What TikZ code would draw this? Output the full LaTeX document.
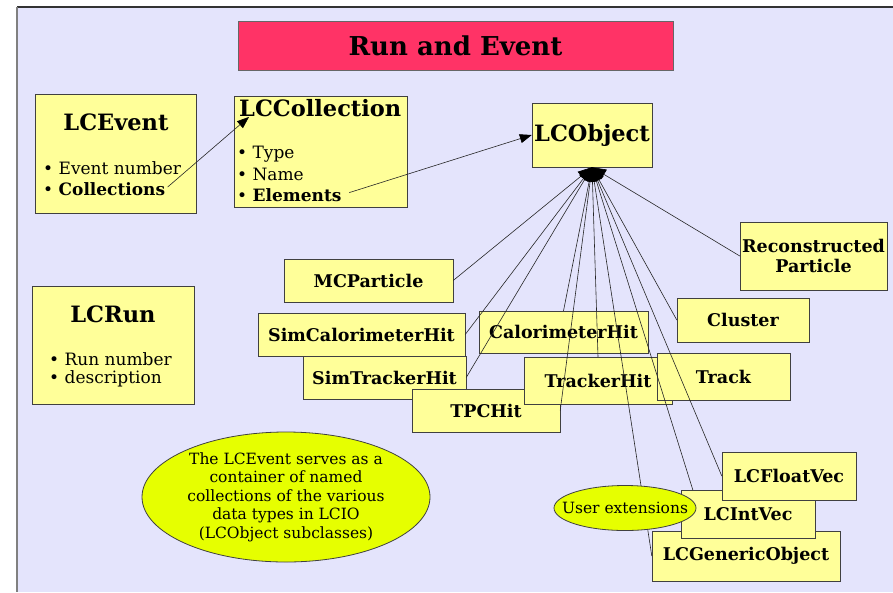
\documentclass[tikz,border=0pt]{standalone}
\usepackage{fontspec}
\setmainfont{DejaVu Serif}
\usetikzlibrary{positioning}
\usetikzlibrary{arrows.meta}
\usetikzlibrary{shapes.geometric}
\definecolor{pagebg}{RGB}{228,228,252}
\definecolor{boxfill}{RGB}{255,255,153}
\definecolor{notefill}{RGB}{230,255,0}
\definecolor{titlefill}{RGB}{255,51,102}
\newcommand{\fsize}[2]{\fontsize{#1}{#2}\selectfont}

\begin{document}
\begin{tikzpicture}[x=1pt, y=-1pt,
    classbox/.style={draw=black!75, fill=boxfill, inner sep=0pt, font=\bfseries\fsize{17.5}{20}},
    head/.style={inner sep=0pt, font=\bfseries\fsize{22.5}{24}},
    item/.style={inner sep=0pt, anchor=west, font=\fsize{17}{20}},
    note/.style={ellipse, draw=black!75, line width=0.8pt, fill=notefill, inner sep=0pt, align=center},
    link/.style={draw=black!85, line width=0.6pt},
    inherit/.style={link, -{Triangle[length=14pt, width=11pt, color=black]}},
    uses/.style={link, -{Triangle[length=12pt, width=9pt, color=black]}}]
    \useasboundingbox (0,0) rectangle (893,592);
    \fill[white] (0,0) rectangle (893,592);
    \fill[pagebg] (17,7) rectangle (893,592);
    \draw[black!80, line width=1.5pt] (17,7) -- (893,7);
    \draw[black!50, line width=2pt] (17,7) -- (17,592);

    \node[draw=black!60, fill=titlefill, minimum width=435, minimum height=49, inner sep=0pt,
        font=\bfseries\fsize{26}{28}] (title) at (455.5,45.5) {Run and Event};

    % LCEvent
    \node[classbox, minimum width=161, minimum height=119] (lc_event) at (115.5,153.5) {};
    \node[head] (event_title) at (116,122) {LCEvent};
    \node[item] (event_num) at (43,168) {\textbullet\ Event number};
    \node[item] (event_coll) at (43,189) {\textbullet\ \textbf{Collections}};

    % LCCollection
    \node[classbox, minimum width=173, minimum height=111] (lc_coll) at (320.5,151.5) {};
    \node[head, anchor=west] (coll_title) at (239,108) {LCCollection};
    \node[item] (coll_type) at (237,154) {\textbullet\ Type};
    \node[item] (coll_name) at (237,174) {\textbullet\ Name};
    \node[item] (coll_elem) at (237,195) {\textbullet\ \textbf{Elements}};

    % LCRun
    \node[classbox, minimum width=162, minimum height=118] (lc_run) at (113,345) {};
    \node[head] (run_title) at (113,314) {LCRun};
    \node[item] (run_num) at (49,359) {\textbullet\ Run number};
    \node[item] (run_desc) at (49,379) {\textbullet\ description};

    \node[classbox, head, draw=black!75, fill=boxfill, minimum width=120, minimum height=64] (lc_object) at (592,135) {LCObject};
    \coordinate (hub) at (lc_object.south);

    \node[classbox, align=center, minimum width=147, minimum height=68] (reco) at (813.5,256) {Reconstructed\\Particle};
    \node[classbox, minimum width=169, minimum height=43] (mcp) at (368.5,280.5) {MCParticle};
    \node[classbox, minimum width=207, minimum height=43] (simcal) at (361.5,334.5) {SimCalorimeterHit};
    \node[classbox, minimum width=163, minimum height=43] (simtrk) at (384.5,377.5) {SimTrackerHit};
    \node[classbox, minimum width=169, minimum height=42] (calo) at (563.5,332) {CalorimeterHit};
    \node[classbox, minimum width=132, minimum height=44] (cluster) at (743,320) {Cluster};
    \node[classbox, minimum width=148, minimum height=43] (tpc) at (486,410.5) {TPCHit};
    \node[classbox, minimum width=148, minimum height=47] (trkhit) at (598,380.5) {TrackerHit};
    \node[classbox, minimum width=133, minimum height=47] (track) at (723.5,376.5) {Track};
    \node[classbox, minimum width=188, minimum height=50] (generic) at (746,556) {LCGenericObject};
    \node[classbox, minimum width=134, minimum height=48] (intvec) at (748,514) {LCIntVec};
    \node[classbox, minimum width=134, minimum height=48] (floatvec) at (789,476) {LCFloatVec};

    % links
    \draw[uses, shorten <=3pt] (event_coll.east) -- ([xshift=10pt]coll_title.south west);
    \draw[uses, shorten <=8pt] (coll_elem.east) -- (lc_object.west);

    \draw[inherit] (mcp.east) -- (hub);
    \draw[inherit] (simcal.east) -- (hub);
    \draw[inherit] (simtrk.east) -- (hub);
    \draw[inherit] (tpc.east) -- (hub);
    \draw[inherit] (calo.north) -- (hub);
    \draw[inherit] (trkhit.north) -- (hub);
    \draw[inherit] (generic.west) -- (hub);
    \draw[inherit] ([xshift=12pt]intvec.north west) -- (hub);
    \draw[inherit] (floatvec.west) -- (hub);
    \draw[inherit] (cluster.west) -- (hub);
    \draw[inherit] (reco.west) -- (hub);

    \node[note, inner xsep=-13pt, minimum width=142, minimum height=45, font=\fsize{15.5}{17}] (user_ext) at (625,508) {User extensions};
    \node[note, minimum width=288, minimum height=130, font=\fsize{15.5}{18.5}] (lcevent_note) at (286,497)
        {The LCEvent serves as a\\container of named\\collections of the various\\data types in LCIO\\(LCObject subclasses)};
\end{tikzpicture}
\end{document}
